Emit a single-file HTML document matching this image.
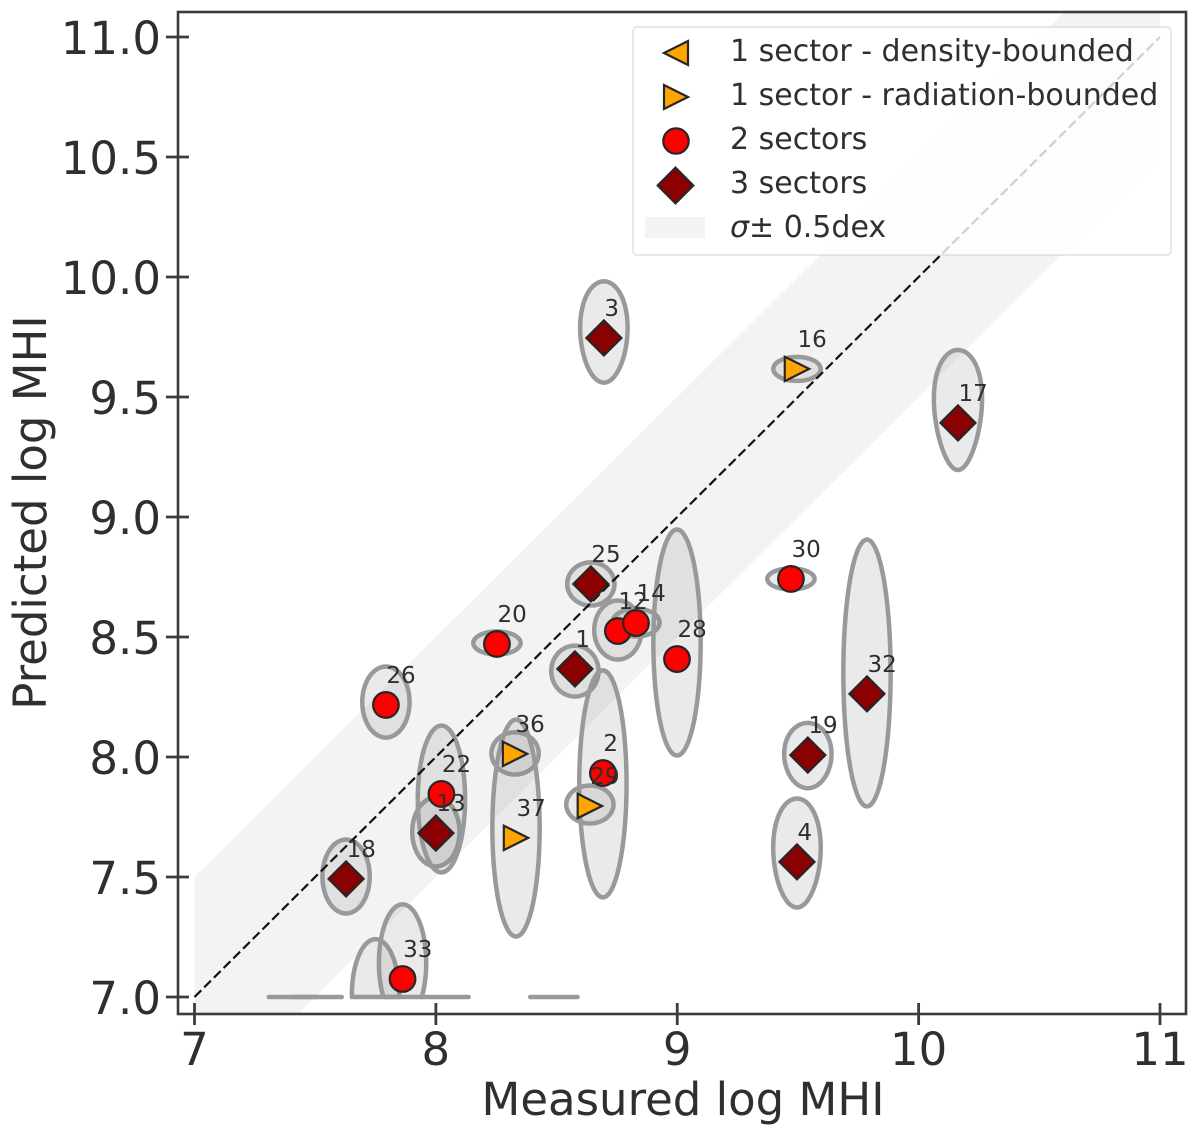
<!DOCTYPE html>
<html>
<head>
<meta charset="utf-8">
<title>Predicted vs measured log MHI</title>
<style>
html,body{margin:0;padding:0;background:#fff;}
svg{display:block;}
text{font-family:"DejaVu Sans","Liberation Sans",sans-serif;fill:#2f2f2f;}
</style>
</head>
<body>
<svg id="chart" xmlns="http://www.w3.org/2000/svg" width="1200" height="1135" viewBox="0 0 1200 1135">
  <defs><clipPath id="plot-clip"><rect x="178" y="12" width="1008" height="1002"/></clipPath></defs>
  <rect x="0" y="0" width="1200" height="1135" fill="#fff"/>
  <g id="plot" clip-path="url(#plot-clip)"></g>
  <rect x="178" y="12" width="1008" height="1002" fill="none" stroke="#3c3c3c" stroke-width="2.6"/>
  <g id="axes"></g>
  <text x="683" y="1115" font-size="45" text-anchor="middle">Measured log MHI</text>
  <text transform="translate(46,512.5) rotate(-90)" font-size="45" text-anchor="middle">Predicted log MHI</text>
  <g>
    <rect x="633" y="27" width="538" height="228" rx="4" fill="#fff" fill-opacity="0.8" stroke="#ccc" stroke-opacity="0.6" stroke-width="1.5"/>
    <polygon points="664,53 688,41 688,65" fill="#ffa500" stroke="#262626" stroke-width="2.2" stroke-linejoin="miter"/>
    <text x="730" y="61" font-size="30">1 sector - density-bounded</text>
    <polygon points="664,85 688,97 664,109" fill="#ffa500" stroke="#262626" stroke-width="2.2" stroke-linejoin="miter"/>
    <text x="730" y="105" font-size="30">1 sector - radiation-bounded</text>
    <circle cx="676" cy="141" r="12.7" fill="#ff0000" stroke="#262626" stroke-width="2.2"/>
    <text x="730" y="149" font-size="30">2 sectors</text>
    <polygon points="675.5,167.7 693.3,185.5 675.5,203.3 657.7,185.5" fill="#8b0000" stroke="#262626" stroke-width="2.2"/>
    <text x="730" y="193" font-size="30">3 sectors</text>
    <rect x="645" y="217" width="60" height="21" fill="#f3f3f3"/>
    <text x="730" y="237" font-size="30"><tspan font-style="italic">σ</tspan>± 0.5dex</text>
  </g>
</svg>
<script>
// Axis ticks
const xTicks = [7, 8, 9, 10, 11];
const yTicks = [7, 7.5, 8, 8.5, 9, 9.5, 10, 10.5, 11];
// Galaxy ids, with measured / predicted log MHI
const galaxyIds = [1, 2, 3, 4, 12, 13, 14, 16, 17, 18, 19, 20, 22, 25, 26, 28, 29, 30, 32, 33, 36, 37];
const measured = [8.576, 8.692, 8.696, 9.496, 8.754, 8.0, 8.829, 9.496, 10.163, 7.628, 9.541, 8.253, 8.023, 8.642, 7.793, 8.999, 8.638, 9.471, 9.786, 7.862, 8.328, 8.332];
const predicted = [8.367, 7.933, 9.746, 7.563, 8.525, 7.683, 8.558, 9.617, 9.392, 7.492, 8.008, 8.471, 7.846, 8.721, 8.217, 8.408, 7.796, 8.742, 8.263, 7.075, 8.013, 7.663];
const sectors = ['3', '2', '3', '3', '2', '3', '2', 'R', '3', '3', '3', '2', '2', '3', '2', '2', 'R', '2', '3', '2', 'R', 'R'];
// Uncertainty ellipses: centre of predicted range, half-height, and top-heavy skew
const ellipseCentre = [8.358, 7.888, 9.771, 7.6, 8.529, 7.688, 8.56, 9.617, 9.446, 7.502, 8.006, 8.475, 7.825, 8.721, 8.229, 8.477, 7.802, 8.742, 8.35, 7.142, 8.015, 7.704];
const ellipseHalf = [0.106, 0.473, 0.211, 0.227, 0.123, 0.144, 0.058, 0.05, 0.25, 0.154, 0.136, 0.048, 0.306, 0.09, 0.148, 0.471, 0.079, 0.044, 0.556, 0.244, 0.088, 0.452];
const ellipseSkew = [0, 0, 0.08, 0.1, 0, 0, 0, 0, 0.2, 0, 0.05, 0, 0, 0, 0, 0, 0, 0, 0, 0, 0, 0];
// Sources whose range falls at or below the plot floor (no marker visible)
const floorMeasured = [7.75, 7.406, 7.512, 8.038, 8.489];
const floorCentre = [7.01, 6.5, 6.5, 6.5, 6.5];
const floorHalf = [0.231, 0.1, 0.1, 0.1, 0.1];
const measuredHalf = 0.098;
const bandWidth = 0.5;
const yFloor = 7;
const xRange = [7, 11];

const NS = 'http://www.w3.org/2000/svg';
const sx = v => 194.5 + (v - 7) * 241.375;
const sy = v => 997 - (v - 7) * 240;
const plot = document.getElementById('plot');
const axes = document.getElementById('axes');
function make(tag, attrs, parent) {
  const el = document.createElementNS(NS, tag);
  for (const k in attrs) el.setAttribute(k, attrs[k]);
  parent.appendChild(el);
  return el;
}

// Band
const bandPts = [
  [xRange[0], xRange[0] + bandWidth],
  [xRange[1], xRange[1] + bandWidth],
  [xRange[1], xRange[1] - bandWidth],
  [xRange[0], xRange[0] - bandWidth]
].map(p => sx(p[0]) + ',' + sy(p[1])).join(' ');
const band = make('polygon', {points: bandPts, fill: '#f3f3f3'}, plot);



// Ellipses
function ellipsePath(cx, cy, hy, skew) {
  const pts = [];
  for (let i = 0; i < 96; i++) {
    const t = i / 96 * 2 * Math.PI;
    const px = cx + measuredHalf * Math.cos(t) * (1 + skew * Math.sin(t));
    const py = Math.max(cy + hy * Math.sin(t), yFloor);
    pts.push(sx(px).toFixed(2) + ',' + sy(py).toFixed(2));
  }
  return 'M' + pts.join('L') + 'Z';
}
const ellStyle = {fill: 'rgba(128,128,128,0.17)', stroke: '#999', 'stroke-width': 4.5, 'stroke-linejoin': 'round', 'stroke-linecap': 'round'};
floorMeasured.forEach((x, i) => {
  const e = make('path', Object.assign({d: ellipsePath(x, floorCentre[i], floorHalf[i], 0)}, ellStyle), plot);
  
  
});
galaxyIds.forEach((id, i) => {
  const e = make('path', Object.assign({d: ellipsePath(measured[i], ellipseCentre[i], ellipseHalf[i], ellipseSkew[i])}, ellStyle), plot);
  
  
});

// One-to-one line
const oneToOne = make('line', {x1: sx(xRange[0]), y1: sy(xRange[0]), x2: sx(xRange[1]), y2: sy(xRange[1]), stroke: '#111', 'stroke-width': 2.2, 'stroke-dasharray': '9.5 4.2'}, plot);



// Markers
const edge = {stroke: '#262626', 'stroke-width': 2.2};
galaxyIds.forEach((id, i) => {
  const x = sx(measured[i]), y = sy(predicted[i]);
  let m;
  if (sectors[i] === '2') {
    m = make('circle', Object.assign({cx: x, cy: y, r: 12.8, fill: '#ff0000'}, edge), plot);
  } else if (sectors[i] === '3') {
    const d = 17.5;
    m = make('polygon', Object.assign({points: [x, y - d, x + d, y, x, y + d, x - d, y].join(' '), fill: '#8b0000'}, edge), plot);
  } else {
    const r = 12.2;
    m = make('polygon', Object.assign({points: [x - r, y - r, x + r, y, x - r, y + r].join(' '), fill: '#ffa500'}, edge), plot);
  }
  
  
});
// Labels
galaxyIds.forEach((id, i) => {
  const t = make('text', {x: sx(measured[i]) + 0.5, y: sy(predicted[i]) - 22, 'font-size': 23}, plot);
  t.textContent = id;
  
  
});

// Ticks
xTicks.forEach(v => {
  const tick = make('line', {x1: sx(v), x2: sx(v), y1: 1003, y2: 1025, stroke: '#3c3c3c', 'stroke-width': 2.8}, axes);
  
  
  const lab = make('text', {x: sx(v), y: 1065, 'font-size': 45, 'text-anchor': 'middle'}, axes);
  lab.textContent = String(v);
  
  
});
yTicks.forEach(v => {
  const tick = make('line', {x1: 166, x2: 189, y1: sy(v), y2: sy(v), stroke: '#3c3c3c', 'stroke-width': 2.8}, axes);
  
  
  const lab = make('text', {x: 161, y: sy(v) + 17, 'font-size': 45, 'text-anchor': 'end'}, axes);
  lab.textContent = v.toFixed(1);
  
  
});
</script>
</body>
</html>
